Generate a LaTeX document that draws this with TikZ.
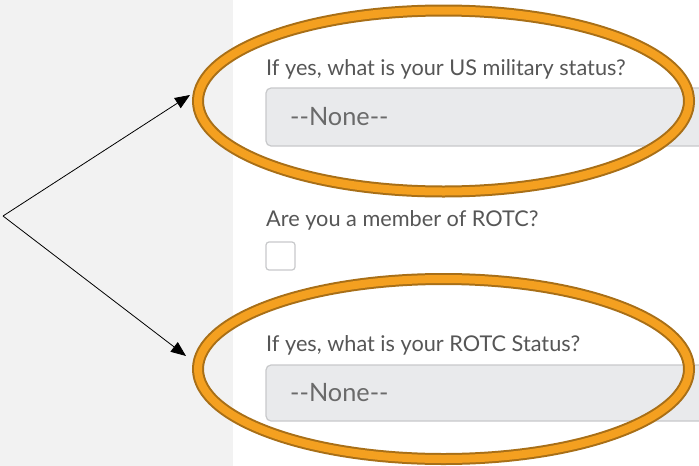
\documentclass[tikz,border=0pt]{standalone}
\usepackage{fontspec}
\setmainfont{Lato}
\usetikzlibrary{shapes.geometric,arrows.meta}
\definecolor{panel}{HTML}{F2F2F2}
\definecolor{labeltext}{HTML}{565656}
\definecolor{valuetext}{HTML}{6A6A6A}
\definecolor{fieldfill}{HTML}{E9EAEC}
\definecolor{fieldline}{HTML}{C8C9CB}
\definecolor{ringfill}{HTML}{F4A020}
\definecolor{ringedge}{HTML}{A86F17}
\tikzset{
  fieldlabel/.style={anchor=west, inner sep=0pt, text=labeltext, font=\fontsize{21.7}{24}\selectfont},
  selectbox/.style={draw=fieldline, fill=fieldfill, line width=1.2pt, rounded corners=5pt},
  selectvalue/.style={anchor=west, inner sep=0pt, text=valuetext, font=\fontsize{25.3}{28}\selectfont},
  checkbox/.style={draw=fieldline, fill=white, line width=1.2pt, rounded corners=3pt},
  ring/.style={ellipse, draw=ringedge, double=ringfill, double distance=8pt, line width=2pt, inner sep=0pt},
  pointer/.style={draw=black, line width=0.8pt, -{Triangle[length=15pt,width=12pt]}}
}
\begin{document}
\begin{tikzpicture}[x=1pt,y=-1pt]
  \useasboundingbox (0,0) rectangle (699,466);
  % grey side panel and white form area
  \fill[panel] (0,0) rectangle (233,466);
  \fill[white] (233,0) rectangle (699,466);

  % military status field
  \node[fieldlabel] (lab1) at (266,69) {If yes, what is your US military status?};
  \draw[selectbox] (266,88) rectangle (720,146);
  \node[selectvalue] (val1) at (290,117) {-{}-None-{}-};

  % ROTC membership
  \node[fieldlabel] (lab2) at (266,220) {Are you a member of ROTC?};
  \draw[checkbox] (266,242) rectangle (295,270);

  % ROTC status field
  \node[fieldlabel] (lab3) at (266,345) {If yes, what is your ROTC Status?};
  \draw[selectbox] (266,365) rectangle (720,421);
  \node[selectvalue] (val2) at (290,393) {-{}-None-{}-};

  % highlight rings
  \node[ring, minimum width=491pt, minimum height=181pt] (ring1) at (443.5,101) {};
  \node[ring, minimum width=491pt, minimum height=180pt] (ring2) at (443.5,369) {};

  % pointers from a common fork
  \coordinate (fork) at (3,216);
  \coordinate (tip1) at (190,95);
  \coordinate (tip2) at (186,356);
  \draw[pointer] (fork) -- (tip1);
  \draw[pointer] (fork) -- (tip2);
\end{tikzpicture}
\end{document}
